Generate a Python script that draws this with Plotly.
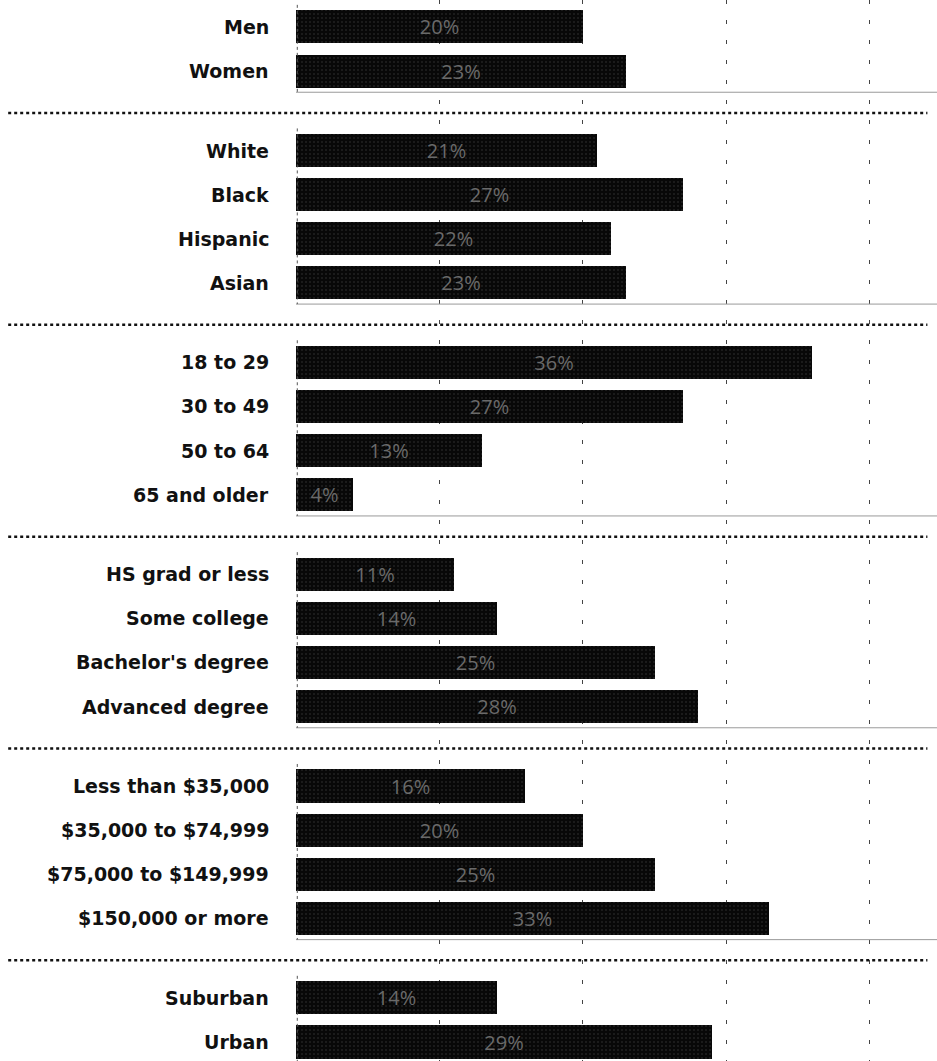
import plotly.graph_objects as go

gender_labels = ["Men", "Women"]
gender_values = [20, 23]
race_labels = ["White", "Black", "Hispanic", "Asian"]
race_values = [21, 27, 22, 23]
age_labels = ["18 to 29", "30 to 49", "50 to 64", "65 and older"]
age_values = [36, 27, 13, 4]
edu_labels = ["HS grad or less", "Some college", "Bachelor's degree", "Advanced degree"]
edu_values = [11, 14, 25, 28]
income_labels = ["Less than $35,000", "$35,000 to $74,999", "$75,000 to $149,999", "$150,000 or more"]
income_values = [16, 20, 25, 33]
community_labels = ["Suburban", "Urban"]
community_values = [14, 29]

groups = [
    (gender_labels, gender_values),
    (race_labels, race_values),
    (age_labels, age_values),
    (edu_labels, edu_values),
    (income_labels, income_values),
    (community_labels, community_values),
]

GAP = 0.8
ys, labels, values = [], [], []
group_bounds = []
pos = 0.0
for gi, (labs, vals) in enumerate(groups):
    start = pos
    for lab, v in zip(labs, vals):
        ys.append(pos)
        labels.append(lab)
        values.append(v)
        pos += 1
    group_bounds.append((start, pos - 1))
    pos += GAP

fig = go.Figure()
fig.add_trace(go.Bar(
    x=values, y=ys, orientation="h", width=0.75,
    marker=dict(color="#080808", line=dict(width=0),
                pattern=dict(shape=".", fgcolor="#3a3a3a", bgcolor="#080808", size=4, solidity=0.2)),
    text=[f"{v}%" for v in values], textposition="inside", insidetextanchor="middle",
    textfont=dict(color="#6a6a6a", size=20, family="Open Sans"),
    hoverinfo="skip",
))

shapes = []
for gi, (s, e) in enumerate(group_bounds):
    shapes.append(dict(type="line", xref="paper", yref="y", x0=0, x1=1, y0=e + 0.48, y1=e + 0.48,
                       line=dict(color="#9a9a9a", width=1)))
    shapes.append(dict(type="line", xref="paper", yref="y", x0=0.002, x1=0.002, y0=s - 0.5, y1=e + 0.48,
                       line=dict(color="#555", width=1, dash="dot")))
    if gi < len(group_bounds) - 1:
        ysep = e + 0.95
        shapes.append(dict(type="line", xref="paper", yref="y", x0=-0.449, x1=0.985, y0=ysep, y1=ysep,
                           line=dict(color="#111", width=2.5, dash="dot")))

annotations = []
for y, lab in zip(ys, labels):
    annotations.append(dict(x=0, xref="paper", y=y, yref="y", text=f"<b>{lab}</b>", showarrow=False,
                            xanchor="right", xshift=-25, yanchor="middle",
                            font=dict(family="DejaVu Sans", size=19, color="#111")))

fig.update_layout(
    width=937, height=1061,
    margin=dict(l=296, r=0, t=0, b=0),
    plot_bgcolor="white", paper_bgcolor="white",
    showlegend=False, bargap=0,
    shapes=shapes, annotations=annotations,
    xaxis=dict(range=[0, 44.7], showticklabels=False, zeroline=False, showline=False,
               tickvals=[10, 20, 30, 40], showgrid=True, gridcolor="#444", gridwidth=1,
               griddash="4px,16px", fixedrange=True),
    yaxis=dict(range=[23.43, -0.61], showticklabels=False, showgrid=False, zeroline=False,
               showline=False, fixedrange=True),
)

fig.write_html("out.html")
